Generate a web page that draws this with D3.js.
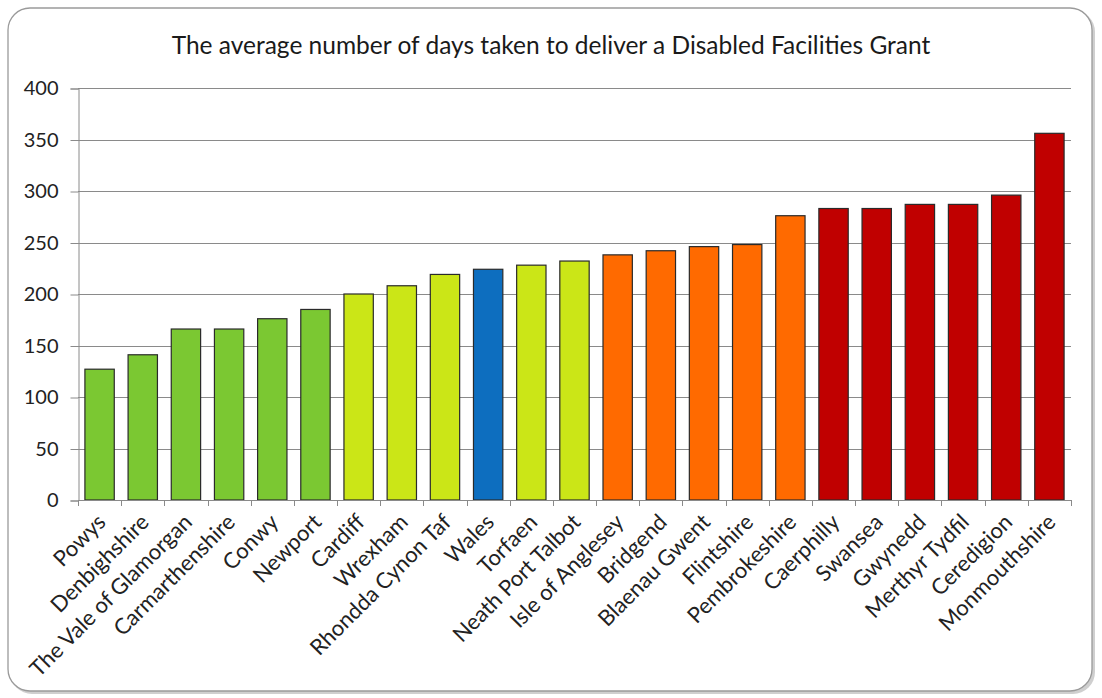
<!DOCTYPE html>
<html><head><meta charset="utf-8">
<script src="https://cdn.jsdelivr.net/npm/d3@7"></script>
<style>
body{margin:0;background:#fff;}
svg{display:block;font-family:Lato,"Open Sans",sans-serif;}
</style></head>
<body><svg id="c" width="1102" height="698"></svg>
<script>
const categories = ["Powys","Denbighshire","The Vale of Glamorgan","Carmarthenshire","Conwy","Newport","Cardiff","Wrexham","Rhondda Cynon Taf","Wales","Torfaen","Neath Port Talbot","Isle of Anglesey","Bridgend","Blaenau Gwent","Flintshire","Pembrokeshire","Caerphilly","Swansea","Gwynedd","Merthyr Tydfil","Ceredigion","Monmouthshire"];
const values = [127,141,166,166,176,185,200,208,219,224,228,232,238,242,246,248,276,283,283,287,287,296,356];
const groups = ["g","g","g","g","g","g","y","y","y","b","y","y","o","o","o","o","o","r","r","r","r","r","r"];
const groupColors = {g:"#7bc832", y:"#cbe617", b:"#0d6ebf", o:"#ff6a00", r:"#c00000"};
const yTicks = [0,50,100,150,200,250,300,350,400];
const title = "The average number of days taken to deliver a Disabled Facilities Grant";

(function(){
const svg = d3.select("#c");
// frame
svg.append("rect").attr("x",10).attr("y",10).attr("width",1085).attr("height",684).attr("rx",22)
  .attr("fill","#cfcfcf");
svg.append("rect").attr("x",8).attr("y",8).attr("width",1084).attr("height",683).attr("rx",22)
  .attr("fill","#fff").attr("stroke","#9a9a9a").attr("stroke-width",1.3);

const pl=78, pr=1071, pt=88, pb=500;
const x = d3.scaleBand().domain(categories).range([pl,pr]).paddingInner(0.32).paddingOuter(0.16);
const y = d3.scaleLinear().domain([0,400]).range([pb,pt]);

svg.append("text").attr("x",551).attr("y",54).attr("text-anchor","middle")
  .attr("font-size",24.5).attr("fill","#1a1a1a").text(title);

// gridlines
svg.append("g").selectAll("line").data(yTicks.filter(d=>d>0)).join("line")
  .attr("x1",pl).attr("x2",pr).attr("y1",d=>Math.round(y(d))+0.5).attr("y2",d=>Math.round(y(d))+0.5)
  .attr("stroke","#8a8a8a").attr("stroke-width",1);

// y axis
const ya = svg.append("g").attr("transform",`translate(${pl+0.5},0.5)`)
  .call(d3.axisLeft(y).tickValues(yTicks).tickSize(8).tickPadding(12));
ya.select(".domain").attr("stroke","#8a8a8a");
ya.selectAll(".tick line").attr("stroke","#8a8a8a");
ya.selectAll(".tick text").attr("font-size",20).attr("fill","#222").attr("font-family","Lato,sans-serif");

// bars
svg.append("g").selectAll("rect").data(categories).join("rect")
  .attr("x",d=>x(d)).attr("width",x.bandwidth())
  .attr("y",(d,i)=>y(values[i])).attr("height",(d,i)=>pb-y(values[i]))
  .attr("fill",(d,i)=>groupColors[groups[i]]).attr("stroke","#2a2a2a").attr("stroke-width",1.2);

// x axis
const bounds = d3.range(categories.length+1).map(i=>pl+i*x.step());
const xa = svg.append("g");
xa.append("line").attr("x1",pl).attr("x2",pr).attr("y1",pb+0.5).attr("y2",pb+0.5).attr("stroke","#8a8a8a");
xa.selectAll("line.t").data(bounds).join("line").attr("class","t")
  .attr("x1",d=>Math.round(d)+0.5).attr("x2",d=>Math.round(d)+0.5).attr("y1",pb).attr("y2",pb+6).attr("stroke","#8a8a8a");
xa.selectAll("text").data(categories).join("text")
  .attr("transform",d=>`translate(${x(d)+x.bandwidth()/2+2},${pb+18}) rotate(-45)`)
  .attr("text-anchor","end").attr("dy","0.35em").attr("font-size",22).attr("fill","#222").text(d=>d);
})();
</script></body></html>
